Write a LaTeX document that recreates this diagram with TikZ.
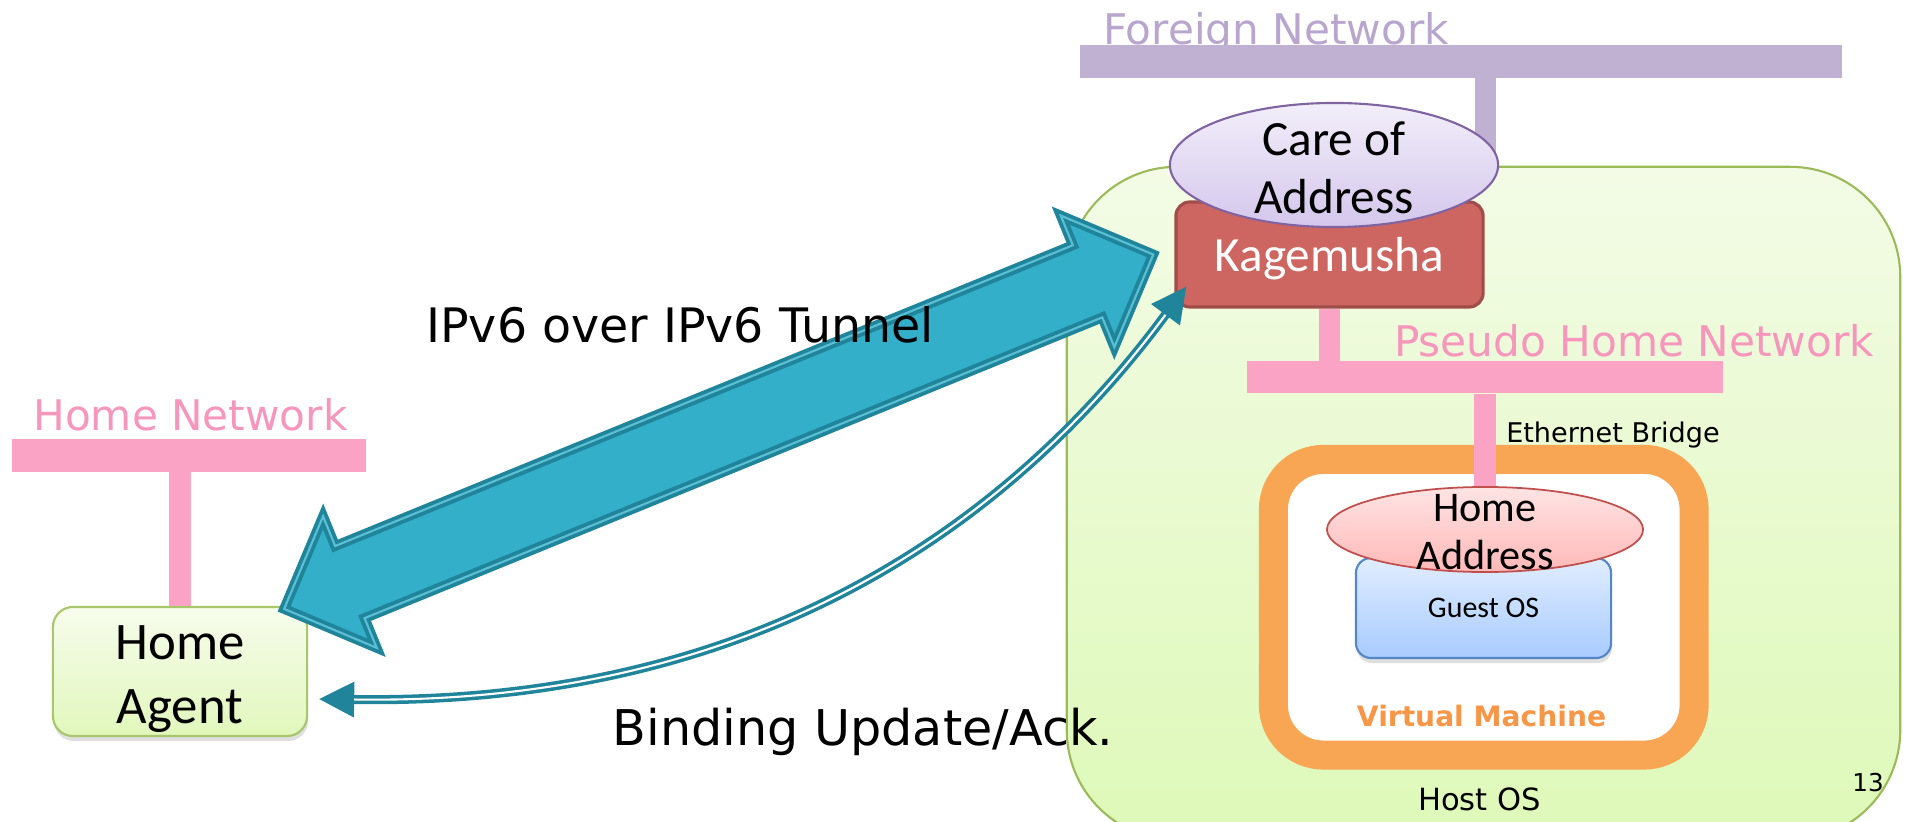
\documentclass[tikz,border=0pt]{standalone}
\usepackage{fontspec}
\setmainfont{DejaVu Sans}
\newfontfamily\calfont{Carlito}
\usetikzlibrary{arrows.meta,calc,shapes.geometric,shapes.arrows,shadows}

\definecolor{netpink}{RGB}{250,163,196}
\definecolor{netpinktxt}{RGB}{246,150,188}
\definecolor{netlav}{RGB}{192,176,210}
\definecolor{netlavtxt}{RGB}{184,166,206}
\definecolor{hostedge}{RGB}{155,187,89}
\definecolor{hosttop}{RGB}{243,251,230}
\definecolor{hostbot}{RGB}{222,249,184}
\definecolor{vmorange}{RGB}{249,166,84}
\definecolor{vmtxt}{RGB}{247,150,70}
\definecolor{kagefill}{RGB}{205,102,96}
\definecolor{kageedge}{RGB}{160,76,72}
\definecolor{coatop}{RGB}{242,238,250}
\definecolor{coabot}{RGB}{212,199,236}
\definecolor{coaedge}{RGB}{128,100,162}
\definecolor{hoatop}{RGB}{255,228,228}
\definecolor{hoabot}{RGB}{255,184,184}
\definecolor{hoaedge}{RGB}{192,80,77}
\definecolor{gosttop}{RGB}{224,237,255}
\definecolor{gostbot}{RGB}{168,203,255}
\definecolor{gostedge}{RGB}{84,135,199}
\definecolor{hatop}{RGB}{247,252,236}
\definecolor{habot}{RGB}{225,247,188}
\definecolor{haedge}{RGB}{168,198,107}
\definecolor{tunfill}{RGB}{51,175,201}
\definecolor{tunedge}{RGB}{32,133,155}
\definecolor{tunline}{RGB}{92,192,212}

\begin{document}
\begin{tikzpicture}[x=0.01cm,y=-0.01cm,
	netbar/.style={fill=#1,inner sep=0pt,minimum height=0.32cm},
	netstem/.style={draw=#1,line width=6pt},
	nettxt/.style={text=#1,font=\fontsize{12}{14}\selectfont,inner sep=0pt,anchor=base},
	smalltxt/.style={inner sep=0pt,anchor=base},
	bigtxt/.style={inner sep=0pt,anchor=base,font=\fontsize{13.5}{16}\selectfont},
	hostbox/.style={draw=hostedge,line width=0.6pt,top color=hosttop,bottom color=hostbot,rounded corners=1.1cm,inner sep=0pt},
	vmbox/.style={draw=vmorange,line width=8.25pt,fill=white,rounded corners=0.5cm,inner sep=0pt},
	kagebox/.style={draw=kageedge,line width=0.9pt,fill=kagefill,rounded corners=0.14cm,inner sep=0pt,text=white,text depth=0pt,font=\calfont\fontsize{14}{16}\selectfont},
	coaell/.style={ellipse,draw=coaedge,line width=0.6pt,top color=coatop,bottom color=coabot,inner sep=0pt},
	hoaell/.style={ellipse,draw=hoaedge,line width=0.5pt,top color=hoatop,bottom color=hoabot,inner sep=0pt},
	gostbox/.style={draw=gostedge,line width=0.6pt,top color=gosttop,bottom color=gostbot,rounded corners=0.15cm,inner sep=0pt,font=\calfont\fontsize{8.5}{10}\selectfont,drop shadow={opacity=0.25,shadow xshift=0.01cm,shadow yshift=-0.05cm}},
	habox/.style={draw=haedge,line width=0.6pt,top color=hatop,bottom color=habot,rounded corners=0.2cm,inner sep=0pt,drop shadow={opacity=0.25,shadow xshift=0.01cm,shadow yshift=-0.05cm}},
	caltxt/.style={inner sep=0pt,align=center},
	tunnel/.style={double arrow,draw=tunedge,double=tunline,line width=1.1pt,double distance=0.6pt,fill=tunfill,inner xsep=0pt,inner ysep=0.37cm,minimum width=1.38cm,double arrow head extend=0.32cm},
	bind/.style={draw=tunedge,double=white,line width=1pt,double distance=0.6pt,arrows={Triangle[length=0.35cm,width=0.35cm]-Triangle[length=0.35cm,width=0.35cm]}}]

	\useasboundingbox (0,0) rectangle (1907,822);

	% host side
	\node[hostbox,minimum width=8.33cm,minimum height=6.73cm] (host) at (1483.5,503.5) {};
	\node[smalltxt,font=\fontsize{8.7}{10}\selectfont] (hostlbl) at (1479.5,810) {Host OS};
	\node[smalltxt,font=\fontsize{7}{8}\selectfont] (pgno) at (1868,791) {13};

	\node[nettxt=netlavtxt] (fnetlbl) at (1276,45) {Foreign Network};
	\node[netbar=netlav,minimum width=7.62cm] (fnet) at (1461,61.5) {};
	\coordinate (fstem) at (1485.5,165);
	\draw[netstem=netlav] (fnet.south -| fstem) -- (fstem);

	\node[nettxt=netpinktxt] (pnetlbl) at (1634,356.7) {Pseudo Home Network};
	\node[netbar=netpink,minimum width=4.76cm] (pnet) at (1485,377.4) {};

	\node[kagebox,minimum width=3.07cm,minimum height=1.05cm] (km) at (1329.5,254.5) {Kagemusha};
	\draw[netstem=netpink] (km.south) -- (km.south |- pnet.north);
	\node[coaell,minimum width=3.28cm,minimum height=1.24cm] (coa) at (1334,165) {};
	\node[caltxt,font=\calfont\fontsize{14}{16.5}\selectfont] (coatxt) at ([yshift=-0.03cm]coa.center) {Care of\\Address};

	\node[vmbox,minimum width=4.205cm,minimum height=2.955cm] (vm) at (1483.75,607.25) {};
	\node[smalltxt,text=vmtxt,font=\bfseries\fontsize{8}{10}\selectfont] (vmlbl) at (1481.5,726.7) {Virtual Machine};
	\node[smalltxt,font=\fontsize{7.7}{9}\selectfont] (ethlbl) at (1613,442.7) {Ethernet Bridge};
	\node[gostbox,minimum width=2.55cm,minimum height=1cm] (guest) at (1483.5,608) {Guest OS};
	\node[hoaell,minimum width=3.16cm,minimum height=0.85cm] (hoa) at (1485,529.5) {};
	\draw[netstem=netpink] (pnet.south -| hoa.north) -- (hoa.north);
	\node[caltxt,font=\calfont\fontsize{12}{13.7}\selectfont] (hoatxt) at ([yshift=-0.03cm]hoa.center) {Home\\Address};

	% home side
	\node[nettxt=netpinktxt] (hnetlbl) at (190.5,431) {Home Network};
	\node[netbar=netpink,minimum width=3.54cm] (hnet) at (189,455.5) {};
	\node[habox,minimum width=2.54cm,minimum height=1.29cm] (ha) at (180,671.5) {};
	\node[caltxt,font=\calfont\fontsize{15}{18}\selectfont] (hatxt) at ([yshift=-0.075cm]ha.center) {Home\\Agent};
	\draw[netstem=netpink] (hnet.south -| ha.north) -- (ha.north);

	% tunnel and binding update
	\coordinate (tunL) at ([xshift=-0.24cm,yshift=-0.03cm]ha.north east);
	\coordinate (tunR) at ([xshift=-0.21cm]km.west);
	\path let \p1=($(tunR)-(tunL)$), \n1={atan2(\y1,\x1)}, \n2={veclen(\x1,\y1)} in
		node[tunnel,rotate=\n1,minimum height=\n2] (tun) at ($(tunL)!0.5!(tunR)$) {};
	\node[bigtxt] (tunlbl) at (680,343) {IPv6 over IPv6 Tunnel};

	\draw[bind] ([xshift=0.11cm,yshift=-0.275cm]ha.east) .. controls +(400,6) and +(-200,270) .. ([xshift=0.12cm,yshift=0.22cm]km.south west);
	\node[bigtxt,font=\fontsize{14}{16}\selectfont] (bulbl) at (863,745) {Binding Update/Ack.};
\end{tikzpicture}
\end{document}
